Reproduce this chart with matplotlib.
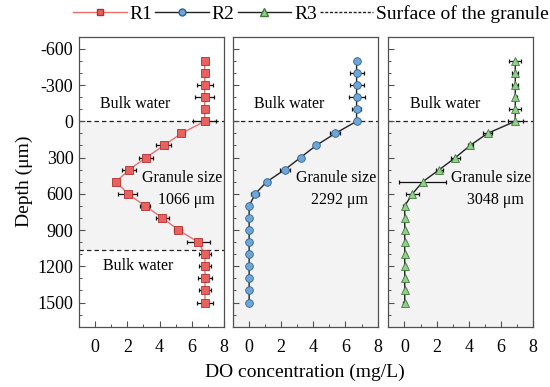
import matplotlib
matplotlib.use("Agg")
import matplotlib.pyplot as plt
from matplotlib.lines import Line2D
from matplotlib.ticker import MultipleLocator

plt.rcParams['font.family'] = ['Liberation Serif', 'DejaVu Serif']
plt.rcParams['axes.unicode_minus'] = False

depth = [-500, -400, -300, -200, -100, 0, 100, 200, 300, 400, 500, 600, 700,
         800, 900, 1000, 1100, 1200, 1300, 1400, 1500]

r1_do = [6.8, 6.8, 6.8, 6.8, 6.8, 6.8, 5.36, 4.26, 3.17, 2.11, 1.30, 2.03, 3.10,
         4.18, 5.17, 6.40, 6.82, 6.82, 6.82, 6.82, 6.82]
r1_err = [0.15, 0.15, 0.5, 0.6, 0.15, 0.7, 0.2, 0.45, 0.45, 0.42, 0.2, 0.6, 0.3,
          0.4, 0.25, 0.7, 0.4, 0.4, 0.45, 0.4, 0.5]

r2_do = [6.69, 6.69, 6.69, 6.69, 6.69, 6.69, 5.37, 4.18, 3.21, 2.24, 1.12, 0.40, 0.02,
         0.02, 0.02, 0.02, 0.02, 0.02, 0.02, 0.02, 0.02]
r2_err = [0.1, 0.43, 0.43, 0.5, 0.3, 0.1, 0.3, 0.1, 0.15, 0.3, 0.15, 0.25, 0.1,
          0.05, 0.05, 0.05, 0.05, 0.05, 0.05, 0.05, 0.05]

r3_do = [6.88, 6.88, 6.88, 6.88, 6.88, 6.88, 5.16, 4.08, 3.17, 2.17, 1.14, 0.50, 0.02,
         0.02, 0.02, 0.02, 0.02, 0.02, 0.02, 0.02, 0.02]
r3_err = [0.37, 0.2, 0.2, 0.1, 0.37, 0.45, 0.3, 0.15, 0.3, 0.2, 1.45, 0.4, 0.1,
          0.05, 0.05, 0.05, 0.05, 0.05, 0.05, 0.05, 0.1]

granule_sizes = [1066, 2292, 3048]
series_names = ['R1', 'R2', 'R3']

fig = plt.figure(figsize=(5.5, 3.87), dpi=100)
W, H = 550, 387
lefts = [79, 232.7, 388.3]
top_px, bot_px, wid_px = 36.7, 326.7, 145

styles = [
    dict(marker='s', mfc='#e8625f', mec='#b03030', color='#e8706e'),
    dict(marker='o', mfc='#6fa6d8', mec='#2d5f8f', color='#222222'),
    dict(marker='^', mfc='#93cf8c', mec='#3f7a3a', color='#222222'),
]
data = [(r1_do, r1_err), (r2_do, r2_err), (r3_do, r3_err)]

spine_col = '#505050'
axes = []
for i in range(3):
    ax = fig.add_axes([lefts[i] / W, 1 - bot_px / H, wid_px / W, (bot_px - top_px) / H])
    axes.append(ax)
    do, err = data[i]
    st = styles[i]
    if i == 0:
        ax.axhspan(0, granule_sizes[0], color='#f3f3f3', zorder=0, lw=0)
        ax.axhline(granule_sizes[0], color='#222222', ls=(0, (3.5, 2.5)), lw=0.9, zorder=1)
    else:
        ax.axhspan(0, 1700, color='#f3f3f3', zorder=0, lw=0)
    ax.axhline(0, color='#222222', ls=(0, (3.5, 2.5)), lw=0.9, zorder=1)
    ax.plot(do, depth, color=st['color'], lw=1.0, zorder=2)
    ax.errorbar(do, depth, xerr=err, fmt='none', ecolor='#111111', elinewidth=0.9,
                capsize=1.5, capthick=0.9, zorder=3)
    ax.plot(do, depth, ls='none', marker=st['marker'], ms=5.5 if i != 2 else 6.2,
            mfc=st['mfc'], mec=st['mec'], mew=0.6, zorder=4)
    ax.set_xlim(-1, 8)
    ax.set_ylim(1700, -700)
    ax.set_xticks([0, 2, 4, 6, 8])
    ax.xaxis.set_minor_locator(MultipleLocator(1))
    ax.set_yticks([-600, -300, 0, 300, 600, 900, 1200, 1500])
    ax.yaxis.set_minor_locator(MultipleLocator(100))
    ax.tick_params(which='both', direction='in', top=False, right=False,
                   color=spine_col, labelsize=13)
    ax.tick_params(which='major', length=4.5, width=0.8)
    ax.tick_params(which='minor', length=2.5, width=0.7)
    ax.tick_params(axis='x', pad=9)
    ax.tick_params(axis='y', pad=4)
    for s in ax.spines.values():
        s.set_color(spine_col)
        s.set_linewidth(0.9)
    if i > 0:
        ax.tick_params(labelleft=False)
    ax.text(2.5, -140, 'Bulk water', ha='center', va='center', fontsize=11.5)
    ax.text(5.4, 466, 'Granule size', ha='center', va='center', fontsize=11.5)
    ax.text(5.65, 652, f'{granule_sizes[i]} μm', ha='center', va='center', fontsize=11.5)

axes[0].text(2.7, 1200, 'Bulk water', ha='center', va='center', fontsize=11.5)
axes[0].set_ylabel('Depth (μm)', fontsize=14, labelpad=3)

fig.text(305 / W, 1 - 372 / H, 'DO concentration (mg/L)', ha='center', va='center', fontsize=14)

handles = [
    Line2D([], [], color=styles[0]['color'], marker='s', mfc=styles[0]['mfc'], mec=styles[0]['mec'], ms=5, lw=1.0),
    Line2D([], [], color='#222222', marker='o', mfc=styles[1]['mfc'], mec=styles[1]['mec'], ms=5, lw=1.0),
    Line2D([], [], color='#222222', marker='^', mfc=styles[2]['mfc'], mec=styles[2]['mec'], ms=5.5, lw=1.0),
    Line2D([], [], color='#222222', ls=(0, (2.2, 1.2)), lw=1.0),
]
labels = series_names + ['Surface of the granule']
fig.legend(handles, labels, loc='center', bbox_to_anchor=(311 / W, 1 - 14 / H), ncol=4,
           frameon=False, fontsize=14, handlelength=2.75, handletextpad=0.15,
           columnspacing=0.15, borderpad=0)

fig.savefig('out.png', dpi=100)
